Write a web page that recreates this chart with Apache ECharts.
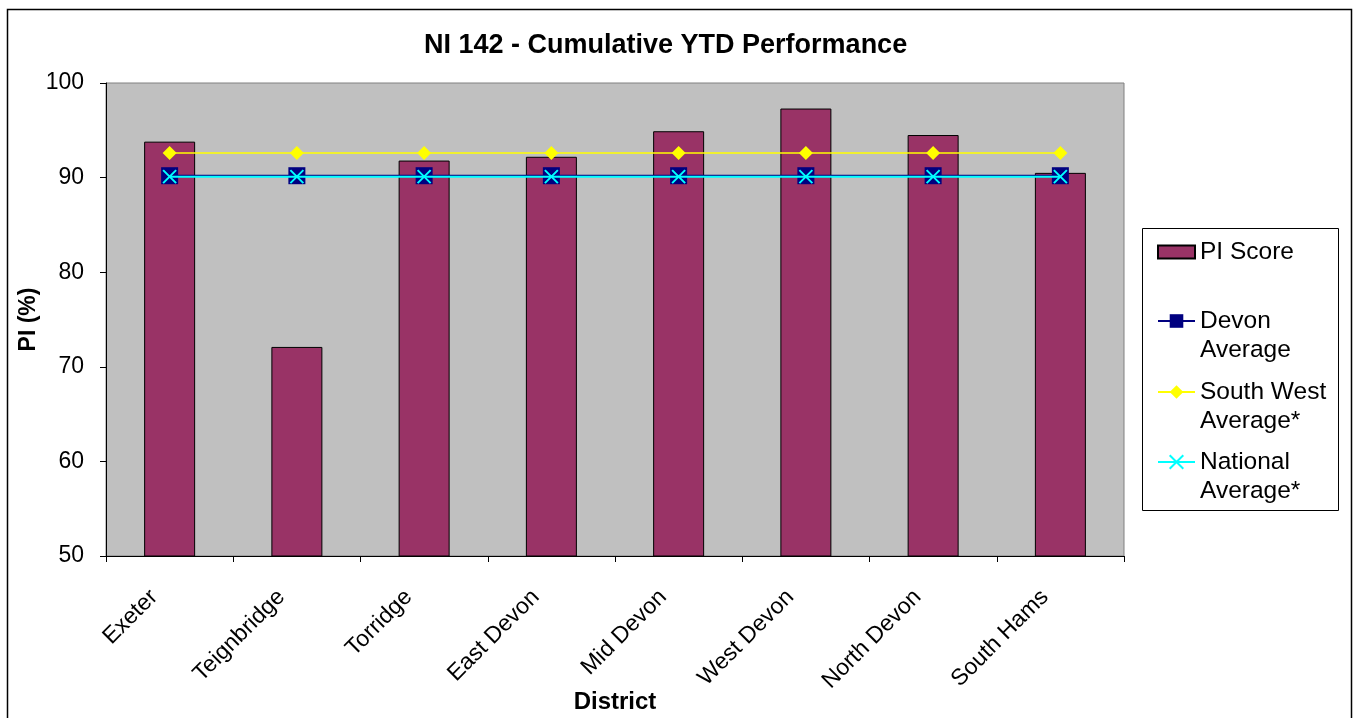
<!DOCTYPE html>
<html>
<head>
<meta charset="utf-8">
<script src="https://cdn.jsdelivr.net/npm/echarts@6/dist/echarts.min.js"></script>
<style>
  html, body { margin: 0; padding: 0; background: #fff; }
  #chart { width: 1355px; height: 718px; }
</style>
</head>
<body>
<div id="chart"></div>
<script>
// District performance for NI 142, cumulative year to date
const districts = ['Exeter', 'Teignbridge', 'Torridge', 'East Devon', 'Mid Devon', 'West Devon', 'North Devon', 'South Hams'];
const piScore = [93.8, 72.1, 91.8, 92.2, 94.9, 97.3, 94.5, 90.5];
const devonAverage = [90.2, 90.2, 90.2, 90.2, 90.2, 90.2, 90.2, 90.2];
const southWestAverage = [92.6, 92.6, 92.6, 92.6, 92.6, 92.6, 92.6, 92.6];
const nationalAverage = [90.1, 90.1, 90.1, 90.1, 90.1, 90.1, 90.1, 90.1];

const FONT = '"Liberation Sans", Arial, sans-serif';
const crossSymbol = 'path://M0,0L10,10M10,0L0,10';

const chart = echarts.init(document.getElementById('chart'));

// One legend block per entry so each can sit at its own height.
// Two-word averages wrap; a leading blank line keeps the icon level with the first word.
function legendFor(name, top, opts) {
  return Object.assign({
    data: [name],
    orient: 'vertical',
    left: 1157,
    top: top,
    padding: 0,
    itemWidth: 37,
    itemHeight: 17,
    itemGap: 0,
    formatter: function (n) {
      return n.indexOf(' Average') >= 0 ? '\n' + n.replace(' Average', '\nAverage') : n;
    },
    textStyle: {
      fontFamily: FONT,
      fontSize: 24.5,
      color: '#000',
      lineHeight: 29
    }
  }, opts || {});
}

chart.setOption({
  animation: false,
  backgroundColor: '#fff',
  title: {
    text: 'NI 142 - Cumulative YTD Performance',
    left: 424,
    top: 32,
    padding: 0,
    textStyle: { fontFamily: FONT, fontSize: 27, fontWeight: 'bold', color: '#000' }
  },
  graphic: [
    {
      type: 'rect',
      shape: { x: 7.5, y: 9.5, width: 1344, height: 720 },
      style: { fill: 'none', stroke: '#000', lineWidth: 1.5 },
      silent: true,
      z: -1
    },
    {
      type: 'rect',
      shape: { x: 1142.5, y: 228.5, width: 196, height: 282 },
      style: { fill: '#fff', stroke: '#000', lineWidth: 1 },
      silent: true,
      z: -1
    }
  ],
  legend: [
    legendFor('PI Score', 237.5, { icon: 'rect', itemHeight: 13 }),
    legendFor('Devon Average', 277.5),
    legendFor('South West Average*', 348.5),
    legendFor('National Average*', 418.5)
  ],
  grid: {
    left: 106,
    right: 231,
    top: 83,
    bottom: 162,
    outerBoundsMode: 'none',
    containLabel: false,
    show: true,
    backgroundColor: '#c0c0c0',
    borderColor: '#808080',
    borderWidth: 1
  },
  xAxis: {
    type: 'category',
    data: districts,
    name: 'District',
    nameLocation: 'middle',
    nameGap: 134,
    nameMoveOverlap: false,
    nameTextStyle: { fontFamily: FONT, fontSize: 24, fontWeight: 'bold', color: '#000' },
    axisLine: { lineStyle: { color: '#000', width: 1 } },
    axisTick: { show: true, length: 6, alignWithLabel: false, lineStyle: { color: '#000' } },
    axisLabel: {
      rotate: 45,
      margin: 22,
      padding: [0, 22, 0, 0],
      fontFamily: FONT,
      fontSize: 23,
      color: '#000',
      interval: 0
    },
    splitLine: { show: false }
  },
  yAxis: {
    type: 'value',
    min: 50,
    max: 100,
    interval: 10,
    name: 'PI (%)',
    nameLocation: 'middle',
    nameRotate: 90,
    nameGap: 66,
    nameMoveOverlap: false,
    nameTextStyle: { fontFamily: FONT, fontSize: 23, fontWeight: 'bold', color: '#000' },
    axisLine: { show: true, lineStyle: { color: '#000', width: 1 } },
    axisTick: { show: true, length: 6, lineStyle: { color: '#000' } },
    axisLabel: { margin: 22, fontFamily: FONT, fontSize: 23, color: '#000' },
    splitLine: { show: false }
  },
  series: [
    {
      name: 'PI Score',
      type: 'bar',
      data: piScore,
      barWidth: 51,
      itemStyle: { color: '#993366', borderColor: '#000', borderWidth: 1 },
      z: 2
    },
    {
      name: 'Devon Average',
      type: 'line',
      data: devonAverage,
      symbol: 'rect',
      symbolSize: 17,
      showAllSymbol: true,
      lineStyle: { color: '#000080', width: 2 },
      itemStyle: { color: '#000080' },
      z: 3
    },
    {
      name: 'South West Average*',
      type: 'line',
      data: southWestAverage,
      symbol: 'diamond',
      symbolSize: 14,
      lineStyle: { color: '#ffff00', width: 1.5 },
      itemStyle: { color: '#ffff00' },
      z: 4
    },
    {
      name: 'National Average*',
      type: 'line',
      data: nationalAverage,
      symbol: crossSymbol,
      symbolSize: 13,
      lineStyle: { color: '#00ffff', width: 2 },
      itemStyle: { color: 'rgba(0,0,0,0)', borderColor: '#00ffff', borderWidth: 2 },
      z: 5
    }
  ]
});
</script>
</body>
</html>
